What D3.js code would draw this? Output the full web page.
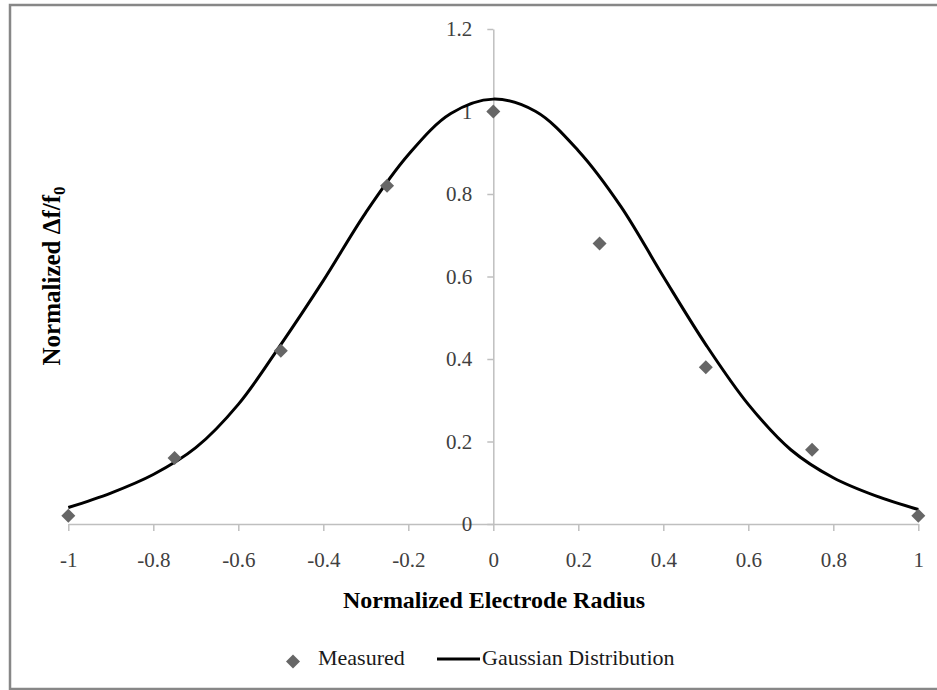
<!DOCTYPE html>
<html>
<head>
<meta charset="utf-8">
<script src="https://cdn.jsdelivr.net/npm/d3@7"></script>
<style>
  body { margin: 0; background: #fff; }
  svg { display: block; }
  svg text { font-family: "Liberation Serif", "Times New Roman", serif; }
</style>
</head>
<body>
<svg id="chart" width="937" height="690"></svg>
<script>
// measured points
var measuredX = [-1, -0.75, -0.5, -0.25, 0, 0.25, 0.5, 0.75, 1];
var measuredY = [0.02, 0.16, 0.42, 0.82, 1.0, 0.68, 0.38, 0.18, 0.02];

// gaussian curve, every 0.1
var gaussX = [-1, -0.9, -0.8, -0.7, -0.6, -0.5, -0.4, -0.3, -0.2, -0.1, 0,
  0.1, 0.2, 0.3, 0.4, 0.5, 0.6, 0.7, 0.8, 0.9, 1];
var gaussY = [0.04, 0.075, 0.12, 0.185, 0.29, 0.435, 0.59, 0.755, 0.895, 0.995, 1.03,
  1.0, 0.905, 0.77, 0.6, 0.435, 0.29, 0.18, 0.112, 0.068, 0.035];

var xTicks = [-1, -0.8, -0.6, -0.4, -0.2, 0, 0.2, 0.4, 0.6, 0.8, 1];
var yTicks = [0, 0.2, 0.4, 0.6, 0.8, 1, 1.2];

var svg = d3.select("#chart");

var x = d3.scaleLinear().domain([-1, 1]).range([68.3, 918.3]);
var y = d3.scaleLinear().domain([0, 1.2]).range([524, 29]);

// outer frame
svg.append("rect")
  .attr("x", 10).attr("y", 5)
  .attr("width", 940).attr("height", 684)
  .attr("fill", "none")
  .attr("stroke", "#878787")
  .attr("stroke-width", 2.5);

// plain hyphen minus like the original
var fmt = function (d) { return String(+d.toFixed(1)); };

// x axis through y = 0
var xAxisG = svg.append("g")
  .attr("transform", "translate(0," + y(0) + ")")
  .call(d3.axisBottom(x).tickValues(xTicks).tickSize(7).tickSizeOuter(0)
    .tickPadding(21).tickFormat(fmt));

// y axis through x = 0
var yAxisG = svg.append("g")
  .attr("transform", "translate(" + x(0) + ",0)")
  .call(d3.axisLeft(y).tickValues(yTicks).tickSize(6).tickSizeOuter(0)
    .tickPadding(15).tickFormat(fmt));

[xAxisG, yAxisG].forEach(function (g) {
  g.attr("font-family", null);
  g.select(".domain").attr("stroke", "#bfbfbf").attr("stroke-width", 1.5);
  g.selectAll(".tick line").attr("stroke", "#bfbfbf").attr("stroke-width", 1.5);
  g.selectAll(".tick text").attr("font-size", 21).attr("fill", "#404040");
});

// gaussian line
var gaussData = gaussX.map(function (d, i) { return [d, gaussY[i]]; });
var line = d3.line()
  .x(function (d) { return x(d[0]); })
  .y(function (d) { return y(d[1]); })
  .curve(d3.curveCatmullRom);

svg.append("path")
  .datum(gaussData)
  .attr("d", line)
  .attr("fill", "none")
  .attr("stroke", "#000")
  .attr("stroke-width", 3);

// measured diamonds
var diamond = d3.symbol(d3.symbolSquare, 98);
var measuredData = measuredX.map(function (d, i) { return [d, measuredY[i]]; });
svg.append("g").selectAll("path")
  .data(measuredData)
  .enter().append("path")
  .attr("d", diamond)
  .attr("transform", function (d) {
    return "translate(" + x(d[0]) + "," + y(d[1]) + ") rotate(45)";
  })
  .attr("fill", "#666666");

// axis titles
svg.append("text")
  .attr("x", 494).attr("y", 608)
  .attr("text-anchor", "middle")
  .attr("font-weight", "bold")
  .attr("font-size", 24)
  .attr("fill", "#000")
  .text("Normalized Electrode Radius");

var yTitle = svg.append("text")
  .attr("transform", "translate(60,276) rotate(-90)")
  .attr("text-anchor", "middle")
  .attr("font-weight", "bold")
  .attr("font-size", 25)
  .attr("fill", "#000");
yTitle.append("tspan").text("Normalized \u0394f/f");
yTitle.append("tspan").attr("font-size", 17).attr("dy", 5).text("0");

// legend
var legend = svg.append("g");
legend.append("path")
  .attr("d", diamond)
  .attr("transform", "translate(293,661.5) rotate(45)")
  .attr("fill", "#666666");
legend.append("text")
  .attr("x", 318).attr("y", 665)
  .attr("font-size", 22)
  .attr("fill", "#1a1a1a")
  .text("Measured");
legend.append("line")
  .attr("x1", 437).attr("x2", 480)
  .attr("y1", 659).attr("y2", 659)
  .attr("stroke", "#000").attr("stroke-width", 3);
legend.append("text")
  .attr("x", 482).attr("y", 665)
  .attr("font-size", 22)
  .attr("fill", "#1a1a1a")
  .text("Gaussian Distribution");
</script>
</body>
</html>
